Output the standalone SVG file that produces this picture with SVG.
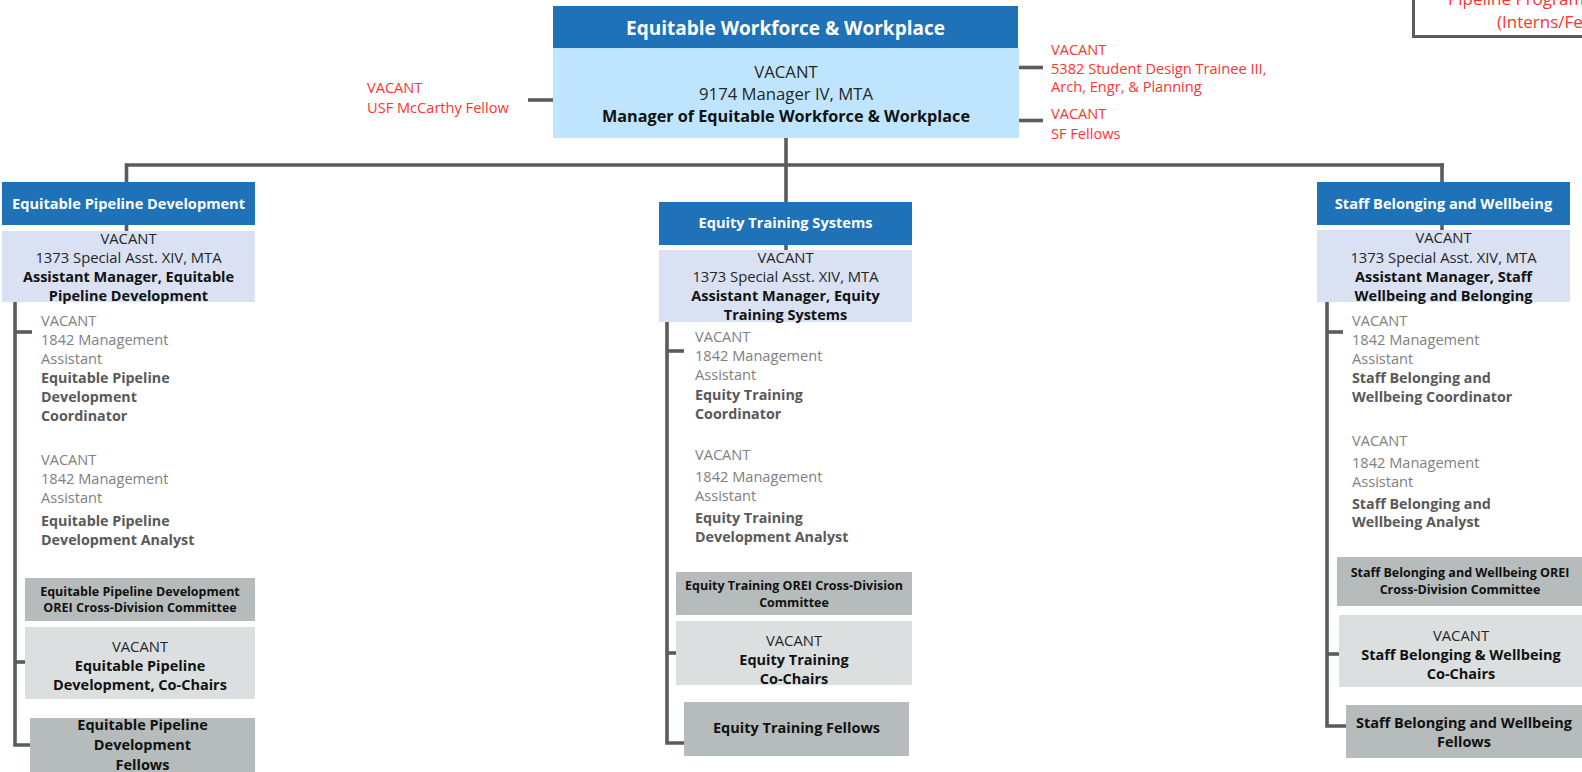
<svg xmlns="http://www.w3.org/2000/svg" width="1582" height="772" viewBox="0 0 1582 772">
<style>
text{font-family:"Open Sans","Noto Sans",sans-serif}
.hdr{fill:#1f72b7}
.main{fill:#bee5fd}
.sub{fill:#dae1f2}
.com{fill:#b6bbbb}
.cc{fill:#dcdfe0}
.ln{stroke:#595b5c;stroke-width:3.6;fill:none}
.ht{fill:#fff;font-weight:700;font-size:14.6px;text-anchor:middle}
.c{text-anchor:middle}
.r{font-size:14.8px;fill:#262626}
.b{font-size:14.5px;font-weight:700;fill:#111}
.g{font-size:14.6px;fill:#808080}
.gb{font-size:14.3px;font-weight:700;fill:#595959}
.cm{font-size:12.5px;font-weight:700;fill:#111}
.red{font-size:14.6px;fill:#f33}
</style>
<g id="connectors">
<line class="ln" x1="528" y1="100" x2="553" y2="100"/>
<line class="ln" x1="1018" y1="67.5" x2="1043" y2="67.5"/>
<line class="ln" x1="1018" y1="120.5" x2="1043" y2="120.5"/>
<line class="ln" x1="786" y1="138" x2="786" y2="250"/>
<line class="ln" x1="125" y1="165" x2="1444" y2="165"/>
<line class="ln" x1="126.5" y1="163.5" x2="126.5" y2="231"/>
<line class="ln" x1="1442" y1="163.5" x2="1442" y2="230"/>
<polyline class="ln" points="15,302 15,745 30,745"/>
<line class="ln" x1="15" y1="332" x2="32" y2="332"/>
<line class="ln" x1="15" y1="662" x2="25" y2="662"/>
<polyline class="ln" points="667,322 667,743 684,743"/>
<line class="ln" x1="667" y1="351" x2="684" y2="351"/>
<line class="ln" x1="667" y1="653" x2="676" y2="653"/>
<polyline class="ln" points="1327,302 1327,726 1346,726"/>
<line class="ln" x1="1327" y1="332" x2="1343" y2="332"/>
<line class="ln" x1="1327" y1="654" x2="1339" y2="654"/>
</g>
<g id="pipeline-programs">
<rect x="1413.5" y="-10" width="200" height="46.5" fill="#fff" stroke="#595b5c" stroke-width="3"/>
<text class="red" x="1448" y="5" style="font-size:17px">Pipeline Program</text>
<text class="red" x="1497" y="27.5" style="font-size:17px">(Interns/Fellows)</text>
</g>
<g id="manager">
<rect class="hdr" x="553" y="6" width="465" height="42"/>
<text class="ht" x="785.5" y="35" style="font-size:19px">Equitable Workforce &amp; Workplace</text>
<rect class="main" x="553" y="48" width="466" height="90"/>
<text class="r c" x="786" y="78" style="font-size:16.7px">VACANT</text>
<text class="r c" x="786" y="100" style="font-size:16.7px">9174 Manager IV, MTA</text>
<text class="b c" x="786" y="122" style="font-size:16.2px">Manager of Equitable Workforce &amp; Workplace</text>
</g>
<g id="usf-fellow">
<text class="red" x="367" y="93">VACANT</text>
<text class="red" x="367" y="112.5">USF McCarthy Fellow</text>
</g>
<g id="student-trainee">
<text class="red" x="1051" y="55">VACANT</text>
<text class="red" x="1051" y="73.5">5382 Student Design Trainee III,</text>
<text class="red" x="1051" y="92">Arch, Engr, &amp; Planning</text>
</g>
<g id="sf-fellows">
<text class="red" x="1051" y="119">VACANT</text>
<text class="red" x="1051" y="138.5">SF Fellows</text>
</g>
<g id="epd">
<rect class="hdr" x="2" y="182" width="253" height="43"/>
<text class="ht" x="128.5" y="209">Equitable Pipeline Development</text>
</g>
<g id="epd-am">
<rect class="sub" x="2" y="231" width="253" height="71"/>
<text class="r c" x="128.5" y="244">VACANT</text>
<text class="r c" x="128.5" y="263">1373 Special Asst. XIV, MTA</text>
<text class="b c" x="128.5" y="282">Assistant Manager, Equitable</text>
<text class="b c" x="128.5" y="301">Pipeline Development</text>
</g>
<g id="epd-coord">
<text class="g" x="41" y="326">VACANT</text>
<text class="g" x="41" y="345">1842 Management</text>
<text class="g" x="41" y="364">Assistant</text>
<text class="gb" x="41" y="383">Equitable Pipeline</text>
<text class="gb" x="41" y="402">Development</text>
<text class="gb" x="41" y="421">Coordinator</text>
</g>
<g id="epd-analyst">
<text class="g" x="41" y="464.5">VACANT</text>
<text class="g" x="41" y="483.5">1842 Management</text>
<text class="g" x="41" y="502.5">Assistant</text>
<text class="gb" x="41" y="526">Equitable Pipeline</text>
<text class="gb" x="41" y="544.5">Development Analyst</text>
</g>
<g id="epd-committee">
<rect class="com" x="25" y="578" width="230" height="43"/>
<text class="cm c" x="140" y="596">Equitable Pipeline Development</text>
<text class="cm c" x="140" y="612">OREI Cross-Division Committee</text>
</g>
<g id="epd-cochairs">
<rect class="cc" x="25" y="627" width="230" height="72"/>
<text class="r c" x="140" y="652">VACANT</text>
<text class="b c" x="140" y="671">Equitable Pipeline</text>
<text class="b c" x="140" y="690">Development, Co-Chairs</text>
</g>
<g id="epd-fellows">
<rect class="com" x="30" y="718" width="225" height="60"/>
<text class="b c" x="142.5" y="730">Equitable Pipeline</text>
<text class="b c" x="142.5" y="750">Development</text>
<text class="b c" x="142.5" y="770">Fellows</text>
</g>
<g id="ets">
<rect class="hdr" x="659" y="202" width="253" height="43"/>
<text class="ht" x="785.5" y="228">Equity Training Systems</text>
</g>
<g id="ets-am">
<rect class="sub" x="659" y="250" width="253" height="72"/>
<text class="r c" x="785.5" y="263">VACANT</text>
<text class="r c" x="785.5" y="282">1373 Special Asst. XIV, MTA</text>
<text class="b c" x="785.5" y="301">Assistant Manager, Equity</text>
<text class="b c" x="785.5" y="320">Training Systems</text>
</g>
<g id="ets-coord">
<text class="g" x="695" y="341.5">VACANT</text>
<text class="g" x="695" y="360.5">1842 Management</text>
<text class="g" x="695" y="380">Assistant</text>
<text class="gb" x="695" y="400">Equity Training</text>
<text class="gb" x="695" y="418.5">Coordinator</text>
</g>
<g id="ets-analyst">
<text class="g" x="695" y="459.5">VACANT</text>
<text class="g" x="695" y="481.5">1842 Management</text>
<text class="g" x="695" y="501">Assistant</text>
<text class="gb" x="695" y="523">Equity Training</text>
<text class="gb" x="695" y="541.5">Development Analyst</text>
</g>
<g id="ets-committee">
<rect class="com" x="676" y="572" width="236" height="43"/>
<text class="cm c" x="794" y="590">Equity Training OREI Cross-Division</text>
<text class="cm c" x="794" y="607">Committee</text>
</g>
<g id="ets-cochairs">
<rect class="cc" x="676" y="621" width="236" height="64"/>
<text class="r c" x="794" y="646">VACANT</text>
<text class="b c" x="794" y="665">Equity Training</text>
<text class="b c" x="794" y="684">Co-Chairs</text>
</g>
<g id="ets-fellows">
<rect class="com" x="684" y="702" width="225" height="54"/>
<text class="b c" x="796.5" y="733">Equity Training Fellows</text>
</g>
<g id="sbw">
<rect class="hdr" x="1317" y="182" width="253" height="43"/>
<text class="ht" x="1443.5" y="209">Staff Belonging and Wellbeing</text>
</g>
<g id="sbw-am">
<rect class="sub" x="1317" y="230" width="253" height="72"/>
<text class="r c" x="1443.5" y="243">VACANT</text>
<text class="r c" x="1443.5" y="263">1373 Special Asst. XIV, MTA</text>
<text class="b c" x="1443.5" y="282">Assistant Manager, Staff</text>
<text class="b c" x="1443.5" y="301">Wellbeing and Belonging</text>
</g>
<g id="sbw-coord">
<text class="g" x="1352" y="326">VACANT</text>
<text class="g" x="1352" y="345">1842 Management</text>
<text class="g" x="1352" y="364">Assistant</text>
<text class="gb" x="1352" y="383">Staff Belonging and</text>
<text class="gb" x="1352" y="402">Wellbeing Coordinator</text>
</g>
<g id="sbw-analyst">
<text class="g" x="1352" y="446">VACANT</text>
<text class="g" x="1352" y="467.5">1842 Management</text>
<text class="g" x="1352" y="486.5">Assistant</text>
<text class="gb" x="1352" y="508.5">Staff Belonging and</text>
<text class="gb" x="1352" y="527">Wellbeing Analyst</text>
</g>
<g id="sbw-committee">
<rect class="com" x="1337" y="557" width="250" height="49"/>
<text class="cm c" x="1460" y="577">Staff Belonging and Wellbeing OREI</text>
<text class="cm c" x="1460" y="594">Cross-Division Committee</text>
</g>
<g id="sbw-cochairs">
<rect class="cc" x="1339" y="615" width="250" height="72"/>
<text class="r c" x="1461" y="641">VACANT</text>
<text class="b c" x="1461" y="660">Staff Belonging &amp; Wellbeing</text>
<text class="b c" x="1461" y="679">Co-Chairs</text>
</g>
<g id="sbw-fellows">
<rect class="com" x="1346" y="705" width="240" height="53"/>
<text class="b c" x="1464" y="728">Staff Belonging and Wellbeing</text>
<text class="b c" x="1464" y="747">Fellows</text>
</g>
</svg>
